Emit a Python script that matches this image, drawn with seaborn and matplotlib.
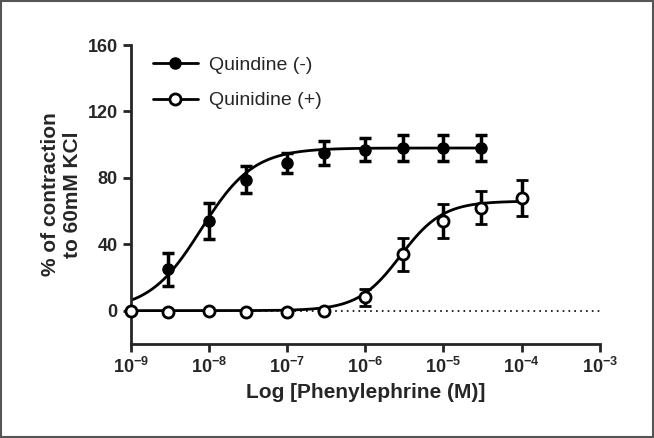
import numpy as np
import matplotlib
matplotlib.use("Agg")
import matplotlib.pyplot as plt
import matplotlib.ticker as mticker
from matplotlib.lines import Line2D
import seaborn as sns

sns.set_style("ticks")
plt.rcParams['font.family'] = ['Liberation Sans', 'DejaVu Sans']

conc_minus = [1e-9, 3e-9, 1e-8, 3e-8, 1e-7, 3e-7, 1e-6, 3e-6, 1e-5, 3e-5]
resp_minus = [0, 25, 54, 79, 89, 95, 97, 98, 98, 98]
err_minus = [0, 10, 11, 8, 6, 7, 7, 8, 8, 8]

conc_plus = [1e-9, 3e-9, 1e-8, 3e-8, 1e-7, 3e-7, 1e-6, 3e-6, 1e-5, 3e-5, 1e-4]
resp_plus = [0, -1, 0, -1, -1, 0, 8, 34, 54, 62, 68]
err_plus = [0, 0, 0, 0, 0, 0, 5, 10, 10, 10, 11]

# fitted sigmoid parameters: top, logEC50, hill
fit_minus = (98.0, -8.1, 1.3)
fit_plus = (66.0, -5.55, 1.6)

fig = plt.figure(figsize=(6.54, 4.38), dpi=100)
ax = fig.add_axes([0.2, 0.215, 0.717, 0.682])

def curve(params, lo, hi):
    top, lec, h = params
    lx = np.linspace(lo, hi, 300)
    return 10**lx, top / (1 + 10**((lec - lx) * h))

x1, y1 = curve(fit_minus, -9, np.log10(3e-5))
x2, y2 = curve(fit_plus, -9, -4)
ax.axhline(0, color='black', lw=1.2, ls=(0, (1, 2.5)), zorder=0)
sns.lineplot(x=x1, y=y1, ax=ax, color='black', lw=2)
sns.lineplot(x=x2, y=y2, ax=ax, color='black', lw=2)

ax.errorbar(conc_minus, resp_minus, yerr=err_minus, fmt='o', color='black', ms=8,
            elinewidth=2.5, capsize=4, capthick=2.5, clip_on=False, zorder=3)
ax.errorbar(conc_plus, resp_plus, yerr=err_plus, fmt='o', color='black', mfc='white', mew=2, ms=8,
            elinewidth=2.5, capsize=4, capthick=2.5, clip_on=False, zorder=3)

ax.set_xscale('log')
ax.set_xlim(1e-9, 1e-3)
ax.set_ylim(-20, 160)
ax.set_yticks([0, 40, 80, 120, 160])
ax.xaxis.set_major_locator(mticker.LogLocator(base=10, numticks=10))
ax.xaxis.set_minor_locator(mticker.NullLocator())
ax.xaxis.set_major_formatter(mticker.LogFormatterMathtext())
for s in ['top', 'right']:
    ax.spines[s].set_visible(False)
for s in ['left', 'bottom']:
    ax.spines[s].set_linewidth(2)
ax.tick_params(width=2, length=6, labelsize=13)
for t in ax.get_xticklabels() + ax.get_yticklabels():
    t.set_fontweight('bold')
ax.set_xlabel('Log [Phenylephrine (M)]', fontsize=15, fontweight='bold')
ax.set_ylabel('% of contraction\nto 60mM KCl', fontsize=15, fontweight='bold')

handles = [Line2D([], [], color='black', lw=2, marker='o', ms=8),
           Line2D([], [], color='black', lw=2, marker='o', ms=8, mfc='white', mew=2)]
ax.legend(handles, ['Quindine (-)', 'Quinidine (+)'], loc='upper left',
          bbox_to_anchor=(0.01, 1.02), frameon=False, fontsize=14,
          handlelength=2.3, handletextpad=0.6, labelspacing=0.9)

fig.patches.append(plt.Rectangle((0.002, 0.003), 0.996, 0.994, transform=fig.transFigure,
                                 fill=False, edgecolor='#555555', lw=1.5))
fig.savefig('out.png', dpi=100)
